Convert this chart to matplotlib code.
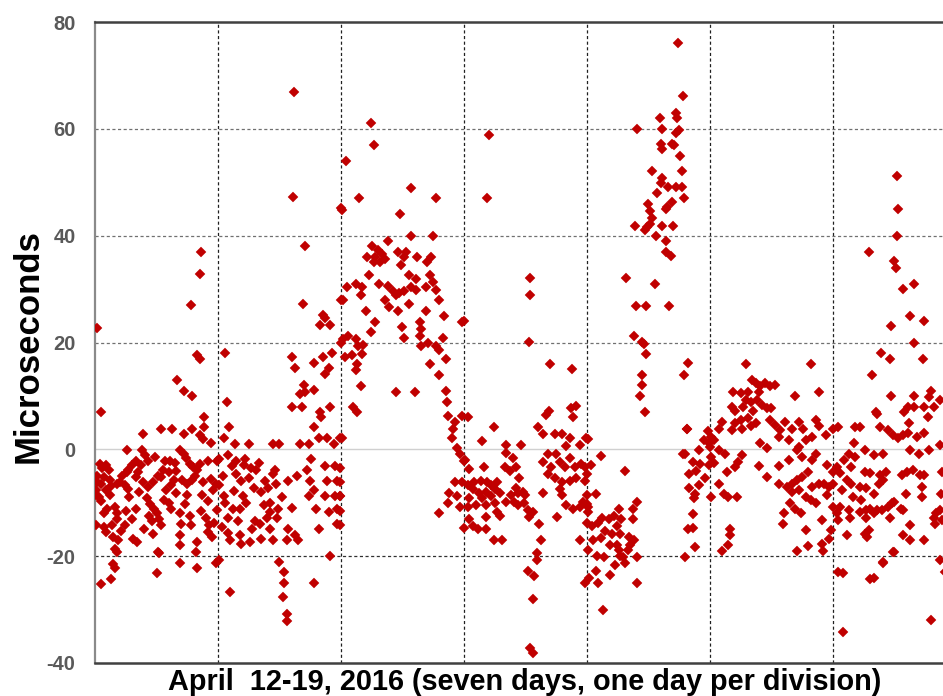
import matplotlib
matplotlib.use("Agg")
import matplotlib.pyplot as plt

# ---- data: (day offset since April 12, microseconds) ----
t_day0 = [0.86,0.85,0.78,0.02,0.83,0.85,0.67,0.72,0.79,0.05,0.89,
          0.39,0.54,0.63,0.72,0.79,0.85,0.89,0.94,0.88,
          0.26,0.38,0.41,0.43,0.33,0.30,0.27,0.57,0.61,0.69,0.72,0.74,0.77,0.80,0.83,0.85,0.92,0.99,
          0.04,0.09,0.11,0.02,0.07,0.12,0.02,0.05,0.01,0.01,0.09,0.18,0.22,0.26,0.20,0.24,0.27,0.33,0.35,0.39,0.43,0.47,0.51,0.55,0.60,0.64,0.62,0.58,0.54,0.71,0.75,0.79,0.81,0.88,0.94,0.98,0.96,
          0.05,0.12,0.10,0.16,0.18,0.18,0.14,0.07,0.01,0.07,0.09,0.15,0.19,0.16,0.18,0.21,0.24,0.33,0.42,0.45,0.48,0.50,0.52,0.54,0.47,0.40,0.31,0.34,0.51,0.62,0.69,0.77,0.70,0.78,0.69,0.69,0.83,0.75,0.87,0.92,0.93,0.92,0.95,0.99,
          0.05,0.13,0.16,0.15,0.50,0.52,0.69,0.83,0.82,0.98,
          0.03,0.06,0.13,0.28,0.36,0.44,0.46,0.56,0.60,0.66,0.73,0.86,0.90,0.97,0.30,0.25,0.37,0.49,0.65,0.66]
us_day0 = [36.9,32.8,27.0,22.8,17.6,16.9,12.9,10.9,9.9,6.9,6.0,
           2.9,3.9,3.9,2.9,3.9,2.6,4.2,1.1,2.0,
           -0.2,-0.2,-1.1,-2.1,-2.1,-3.0,-3.9,-2.1,-2.1,-0.2,-0.8,-1.7,-2.7,-3.3,-3.9,-2.7,-2.1,-2.1,
           -2.7,-3.0,-3.9,-4.9,-5.2,-5.8,-6.1,-6.4,-7.7,-8.6,-7.7,-6.4,-4.9,-4.2,-6.1,-6.7,-7.4,-5.2,-4.2,-6.1,-7.1,-6.1,-4.9,-3.9,-4.2,-5.8,-6.7,-7.7,-5.2,-5.8,-6.4,-5.8,-4.9,-6.1,-5.5,-6.4,-7.7,
           -9.6,-8.6,-11.1,-10.8,-12.0,-13.0,-14.2,-12.0,-14.2,-14.5,-15.5,-16.4,-17.0,-18.6,-19.2,-15.2,-14.2,-11.1,-9.2,-10.2,-11.1,-12.0,-13.0,-14.2,-15.8,-14.9,-16.7,-17.4,-19.2,-11.1,-12.0,-12.4,-13.9,-14.2,-16.1,-18.0,-17.4,-8.6,-8.6,-9.6,-14.2,-15.5,-16.4,-11.4,
           -25.2,-24.2,-22.3,-21.4,-23.1,-19.4,-21.2,-22.3,-19.2,-21.2,
           -9.0,-3.5,-6.9,-9.0,-8.0,-12.5,-13.5,-9.5,-10.0,-8.2,-10.2,-11.5,-12.8,-13.8,-13.0,-11.5,-3.0,-1.5,-2.5,-4.0]

t_day1 = [1.62,1.61,1.71,1.69,1.85,1.87,1.83,1.91,1.06,1.60,1.63,1.78,1.85,1.93,1.90,1.87,1.70,1.67,1.78,1.71,1.60,1.68,1.07,1.91,1.83,1.84,1.09,1.78,
          1.05,1.14,1.25,1.45,1.50,1.67,1.74,1.82,1.89,1.94,1.99,
          1.01,1.08,1.15,1.22,1.27,1.31,1.25,1.19,1.15,1.11,1.04,1.01,1.05,1.12,1.08,1.03,1.08,1.10,1.18,1.26,1.19,1.35,1.42,1.34,1.30,1.45,1.57,1.63,1.56,1.65,1.18,1.23,1.20,1.29,1.35,1.41,1.38,1.45,1.46,1.42,1.42,1.48,1.40,1.49,1.57,1.64,1.76,1.72,1.75,1.74,1.78,1.80,1.82,1.87,1.95,1.89,1.97,1.87,1.95,1.99,1.97,1.97,1.90,1.91,
          1.01,1.50,1.54,1.54,1.53,1.56,1.56,1.10,1.78,
          1.13,1.21,1.33,1.37,1.52,1.60,1.06,1.16,1.28,1.47]
us_day1 = [66.9,47.2,38.0,27.3,25.2,24.5,23.3,23.3,18.1,17.2,15.2,16.2,17.2,18.1,15.2,14.1,12.0,10.3,11.1,10.7,7.9,7.9,8.9,8.0,6.9,6.0,4.1,4.1,
           2.2,1.0,1.0,1.0,1.0,1.0,1.0,2.2,2.2,1.0,2.2,
           -1.8,-1.1,-2.1,-1.8,-3.5,-3.9,-5.3,-6.0,-4.6,-3.2,-4.9,-6.6,-8.7,-11.1,-12.9,-14.6,-15.6,-17.0,-16.0,-17.4,-17.7,-16.7,-14.9,-13.9,-13.5,-16.9,-14.9,-16.0,-17.0,-17.0,-11.1,-10.1,-8.7,-7.3,-8.0,-7.3,-5.9,-4.6,-3.9,-10.1,-11.8,-12.9,-12.9,-11.1,-5.9,-4.9,-1.8,-3.9,-5.9,-8.7,-7.7,-11.1,-14.9,-3.2,-3.2,-5.9,-5.9,-8.7,-8.7,-8.7,-11.1,-13.9,-11.8,-20.0,
           -20.8,-21.0,-22.9,-25.0,-27.7,-30.9,-32.2,-26.8,-25.0,
           -7.8,-3.0,-2.6,-10.5,-9.0,-11.0,-10.0,-13.5,-15.0,-6.5]

t_day2 = [2.00,2.00,2.00,
          2.24,2.27,2.04,2.57,2.15,2.77,2.01,2.48,2.57,2.75,2.38,
          2.25,2.30,2.33,2.28,2.21,2.32,2.27,2.36,2.46,2.51,2.49,2.62,2.70,2.73,2.53,2.55,2.61,2.72,2.75,2.23,2.12,2.05,2.17,2.02,2.16,2.20,2.31,2.38,2.42,2.45,2.47,2.51,2.57,2.61,2.69,2.77,2.80,2.36,2.39,2.46,2.55,2.69,2.84,2.98,2.28,2.64,2.65,2.50,2.24,2.51,2.64,2.65,2.71,2.77,2.83,2.80,2.85,2.72,2.80,
          2.02,2.06,2.12,2.14,2.18,2.03,2.09,2.13,2.17,2.12,2.16,2.45,2.60,2.10,2.13,2.01,2.85,2.86,
          2.87,2.93,2.98,2.91,2.90,2.94,2.97,3.00,2.93,2.98,2.88,2.94,2.87,2.97,2.80,3.00,
          1.99,1.99,1.99,1.99,1.99]
us_day2 = [45.1,28.0,20.0,
           61.0,56.9,54.0,49.0,47.1,47.1,44.8,44.0,40.0,40.0,39.0,
           38.0,37.3,36.6,36.0,36.0,35.0,35.0,35.6,37.0,36.0,34.6,36.0,35.0,36.0,37.0,32.6,31.9,32.6,31.3,32.6,30.9,30.3,30.3,27.9,28.9,25.9,30.9,30.6,29.6,28.9,29.3,29.6,30.3,29.9,30.3,29.9,27.9,27.9,26.6,25.9,27.3,25.9,24.9,23.9,23.9,23.9,22.6,22.9,21.9,20.9,21.3,19.3,19.9,19.3,20.9,18.6,16.9,15.9,14.0,
           20.6,21.3,20.6,19.3,19.6,17.2,17.6,15.9,17.9,14.9,11.9,10.7,10.7,7.9,6.9,2.2,10.9,8.9,
           6.2,5.2,6.2,3.9,2.2,0.2,-0.8,-2.1,-6.1,-6.1,-8.1,-8.8,-10.1,-10.8,-12.0,-14.8,
           -3.5,-6.1,-8.8,-11.5,-14.1]

t_day3 = [3.20,3.19,3.00,3.54,3.54,3.53,3.70,3.88,
          3.03,3.24,3.67,3.69,3.87,3.91,3.89,3.60,3.64,3.74,3.80,3.86,3.99,3.15,3.34,3.46,3.16,3.68,3.75,3.83,3.94,3.64,3.71,3.78,3.82,3.90,3.95,3.86,3.01,3.04,3.34,3.40,3.42,3.37,3.33,3.45,3.68,3.74,3.80,3.86,3.91,3.98,3.98,
          3.03,3.08,3.14,3.19,3.22,3.27,3.07,3.12,3.18,3.25,3.29,3.22,3.15,3.04,3.10,3.03,3.18,3.25,3.34,3.38,3.41,3.42,3.44,3.48,3.50,3.49,3.44,3.52,3.56,3.53,3.27,3.29,3.18,3.04,3.07,3.11,3.18,3.24,3.31,3.64,3.78,3.80,3.83,3.89,3.94,3.97,4.00,4.01,3.76,4.00,3.94,4.01,3.98,
          3.61,3.63,3.59,3.59,3.52,3.57,3.56,3.54,3.56]
us_day3 = [58.8,47.0,24.1,32.1,28.8,20.1,16.0,15.0,
           6.1,4.2,6.4,7.1,7.7,8.1,6.1,4.2,2.9,2.9,2.9,2.2,2.2,1.6,0.9,0.9,-3.3,-0.9,-0.9,0.6,0.9,-2.3,-3.3,-2.3,-3.3,-3.3,-2.7,-1.7,-2.0,-3.6,-0.7,-1.7,-3.3,-4.0,-3.3,-5.3,-4.6,-5.3,-6.2,-5.9,-5.3,-5.9,-3.3,
           -6.6,-6.2,-5.9,-6.2,-6.6,-6.2,-7.5,-8.2,-7.9,-7.5,-8.2,-8.8,-9.2,-9.2,-10.5,-10.8,-10.5,-10.1,-9.8,-8.5,-9.8,-7.2,-8.2,-7.9,-8.5,-10.1,-10.5,-11.4,-11.8,-12.7,-11.8,-12.4,-12.7,-13.1,-14.4,-15.0,-15.0,-17.0,-17.0,-8.2,-7.5,-8.5,-10.5,-11.1,-10.8,-9.8,-8.5,-10.8,-12.7,-13.7,-17.0,-18.9,-25.1,
           -14.0,-17.0,-19.5,-20.8,-22.8,-23.8,-28.0,-37.1,-38.1]

t_day4 = [4.74,4.78,4.59,4.72,4.73,4.61,4.41,4.75,4.72,4.60,4.61,4.69,4.71,4.76,4.53,4.77,4.61,4.60,4.66,4.72,4.77,4.57,4.79,4.50,4.69,4.65,4.64,4.51,4.53,4.49,4.51,4.39,4.61,4.70,4.47,4.56,4.64,4.64,4.68,
          4.32,4.55,4.40,4.48,4.67,4.38,4.45,4.46,4.48,4.45,4.45,4.43,4.47,4.82,4.79,4.81,
          4.98,4.95,4.99,4.91,4.80,4.86,4.92,4.99,4.89,4.83,4.96,4.91,4.83,4.88,4.87,4.86,4.86,4.82,4.88,4.80,
          4.01,4.11,4.31,4.03,4.00,4.07,4.00,4.01,4.41,4.37,4.26,4.22,4.28,4.18,4.12,4.09,4.04,4.24,4.37,4.15,4.20,4.27,4.34,4.38,4.11,4.05,4.19,4.24,4.26,4.33,4.14,4.08,4.41,4.29,
          4.02,4.09,4.13,4.23,4.31,4.41,4.07,4.19,4.27,4.35,4.81,4.78]
us_day4 = [76.1,66.1,62.1,63.0,62.1,59.9,59.9,59.8,59.2,57.2,56.3,57.2,56.9,55.0,52.1,52.1,50.8,49.8,49.2,49.2,49.2,47.9,47.0,45.9,46.3,45.3,45.0,44.6,43.4,41.7,42.1,41.9,41.9,41.9,41.1,39.9,39.0,36.9,36.1,
           32.1,30.9,26.9,26.9,26.9,21.2,20.1,19.7,17.9,14.0,12.1,9.9,6.9,16.1,14.0,3.8,
           3.4,1.7,1.1,-0.1,-0.9,-2.3,-2.7,-3.0,-4.0,-4.6,-5.3,-6.6,-7.3,-8.3,-9.2,-12.1,-14.7,-15.0,-18.3,-20.2,
           1.9,-1.2,-4.1,-3.0,-4.7,-8.3,-10.2,-11.8,-9.9,-11.2,-11.2,-12.5,-13.1,-13.1,-12.8,-13.7,-14.4,-14.4,-13.1,-15.2,-15.9,-15.9,-16.5,-17.0,-16.6,-17.0,-17.9,-17.9,-18.9,-18.9,-20.2,-19.9,-20.2,-20.2,
           -24.0,-25.0,-30.0,-21.7,-21.3,-25.0,-22.7,-23.6,-19.9,-18.0,3.9,-0.8]

t_day5 = [5.29,5.82,5.34,5.37,5.41,5.45,5.49,5.53,5.19,5.25,5.31,5.40,5.69,5.89,5.29,5.33,5.38,5.42,5.46,5.50,5.18,5.20,5.27,5.35,5.31,5.25,5.20,5.33,5.37,5.26,5.18,5.10,5.07,5.49,5.53,5.57,5.56,5.61,5.67,5.72,5.76,5.86,5.89,5.83,5.94,6.00,5.64,5.72,5.78,5.41,5.46,
          5.01,5.03,5.00,5.07,5.12,5.26,5.23,5.20,5.01,5.03,5.40,5.56,5.64,5.71,5.75,5.83,5.86,5.95,6.00,5.14,5.07,5.46,5.56,5.63,5.67,5.71,5.75,5.80,5.83,5.89,5.93,5.97,5.67,5.72,5.78,5.82,5.95,5.11,5.15,5.22,5.01,
          5.65,5.69,5.60,5.74,5.59,5.91,6.00,5.98,5.78,5.16,5.16,5.15,5.10,5.71,5.80,5.91,5.92,5.97,5.86]
us_day5 = [16.0,16.0,13.0,12.4,11.8,12.4,11.8,12.1,10.8,10.5,10.8,10.8,10.0,10.8,9.3,8.9,9.3,8.3,7.7,7.7,8.0,7.1,8.0,7.1,5.8,5.5,4.9,4.3,4.9,3.9,3.6,5.2,3.9,5.5,4.6,3.6,2.4,5.2,3.9,5.2,3.9,5.5,4.3,2.4,2.7,3.9,1.8,0.5,1.8,1.1,0.2,
           2.4,1.8,0.5,-0.1,-0.8,-1.1,-2.3,-3.3,-1.4,-2.6,-3.1,-3.1,-2.0,-0.1,-1.4,-2.0,-0.8,-2.9,-4.2,-4.2,-6.4,-5.1,-6.4,-7.0,-6.4,-5.8,-5.1,-4.2,-7.0,-6.4,-6.4,-7.0,-7.9,-7.6,-8.9,-9.5,-8.6,-8.3,-8.9,-8.9,-8.9,
           -10.1,-11.1,-12.0,-12.0,-13.9,-13.3,-10.8,-15.1,-15.1,-15.0,-16.1,-17.9,-19.0,-19.0,-18.1,-17.8,-19.0,-16.7,-10.1]

t_day6 = [6.52,6.53,6.52,6.29,6.50,6.51,6.57,6.66,6.63,6.74,6.47,6.66,6.39,6.46,6.73,6.32,6.47,6.66,6.80,6.78,6.87,6.35,6.58,6.61,6.66,6.74,6.82,6.77,6.62,
          6.04,6.18,6.22,6.38,6.45,6.49,6.53,6.57,6.61,6.68,6.74,6.17,6.87,6.63,6.70,6.78,6.26,6.33,6.41,6.13,6.09,6.18,6.03,6.06,6.15,6.11,6.00,6.07,6.15,6.26,6.30,6.38,6.43,6.37,6.41,6.22,6.27,6.33,6.16,6.23,6.56,6.60,6.65,6.71,6.74,6.72,6.72,6.59,6.89,6.88,
          6.06,6.13,6.03,6.04,6.14,6.22,6.27,6.30,6.36,6.40,6.45,6.48,6.50,6.55,6.57,6.27,6.33,6.46,6.84,6.82,6.87,6.83,6.89,6.11,6.26,6.29,6.28,6.57,6.63,6.63,6.74,
          6.50,6.41,6.87,6.91,6.08,6.33,6.80,6.08,6.04,6.30,6.41,6.49,6.36]
us_day6 = [51.1,44.9,40.0,36.9,35.2,33.9,30.0,30.9,25.0,24.1,23.0,20.0,18.0,16.9,16.9,13.9,10.0,10.0,10.9,9.8,9.3,6.9,6.9,8.0,8.0,8.0,8.0,6.1,5.0,
           4.1,4.1,4.1,4.1,3.6,2.7,2.1,2.7,3.0,2.4,3.0,1.1,0.8,-0.1,-0.8,-0.1,-0.1,-1.1,-0.9,-0.8,-2.0,-1.4,-3.3,-4.5,-3.3,-5.8,-6.4,-7.6,-6.4,-4.2,-4.5,-4.8,-4.2,-6.4,-5.8,-7.0,-7.3,-8.3,-8.9,-9.5,-4.8,-4.2,-3.9,-4.8,-4.8,-7.0,-8.9,-8.3,-4.2,-8.3,
           -10.8,-11.4,-12.0,-13.3,-12.9,-11.7,-11.4,-11.1,-11.4,-11.4,-10.8,-10.1,-9.8,-11.1,-11.4,-12.9,-12.0,-12.9,-12.0,-12.9,-11.4,-13.9,-13.3,-16.1,-15.8,-15.1,-16.4,-16.1,-17.0,-14.2,-17.0,
           -19.2,-21.1,-20.8,-22.9,-23.1,-24.0,-32.0,-34.2,-23.0,-24.2,-21.2,-19.3,6.7]

series = [(t_day0, us_day0), (t_day1, us_day1), (t_day2, us_day2), (t_day3, us_day3),
          (t_day4, us_day4), (t_day5, us_day5), (t_day6, us_day6)]

y_ticks = [-40, -20, 0, 20, 40, 60, 80]
x_label = "April  12-19, 2016 (seven days, one day per division)"
y_label = "Microseconds"

# ---- figure ----
W, H = 943, 696
fig = plt.figure(figsize=(W / 100, H / 100), dpi=100)
left, right, top, bottom = 95, 956, 22, 663
ax = fig.add_axes([left / W, (H - bottom) / H, (right - left) / W, (bottom - top) / H])

ax.set_xlim(0, 7)
ax.set_ylim(-40, 80)

for tx, vy in series:
    ax.plot(tx, vy, linestyle="none", marker="D", markersize=5.4,
            markerfacecolor="#C00000", markeredgecolor="#C00000", markeredgewidth=0.3,
            zorder=3)

# grid
for d in range(1, 7):
    ax.axvline(d, color="#202020", linewidth=0.9, linestyle=(0, (2.5, 2)), zorder=1)
for v in [20, 40, 60]:
    ax.axhline(v, color="#707070", linewidth=0.9, linestyle=(0, (2.5, 2)), zorder=1)
ax.axhline(-20, color="#303030", linewidth=0.9, linestyle=(0, (2.5, 2)), zorder=1)
ax.axhline(0, color="#d0d0d0", linewidth=1.0, zorder=1)

ax.set_yticks(y_ticks)
ax.set_yticklabels([str(v) for v in y_ticks], fontsize=14.5, fontweight="bold",
                   color="#595959", family="Liberation Sans")
ax.tick_params(axis="y", length=0, pad=14)
ax.set_xticks([])

ax.spines["right"].set_visible(False)
ax.spines["left"].set_color("#8a8a8a")
ax.spines["left"].set_linewidth(1.6)
ax.spines["top"].set_color("#404040")
ax.spines["top"].set_linewidth(1.8)
ax.spines["bottom"].set_color("#404040")
ax.spines["bottom"].set_linewidth(1.8)

fig.text(28 / W, 1 - 346 / H, y_label, rotation=90, ha="center", va="center",
         fontsize=25, fontweight="bold", color="black", family="Liberation Sans")
fig.text(525 / W, 1 - 682 / H, x_label, ha="center", va="center",
         fontsize=20.8, fontweight="bold", color="black", family="Liberation Sans")

fig.savefig("out.png", dpi=100, facecolor="white")
